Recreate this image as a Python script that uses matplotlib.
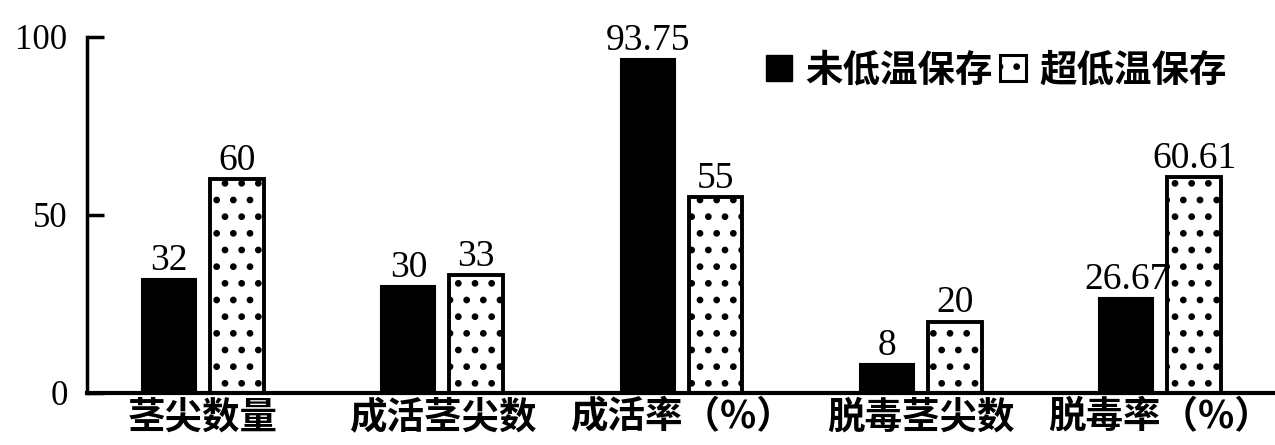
import matplotlib.pyplot as plt
import numpy as np
from matplotlib.patches import Patch

# 茎尖超低温保存前后的数据
categories = ['茎尖数量', '成活茎尖数', '成活率（%）', '脱毒茎尖数', '脱毒率（%）']
untreated = [32, 30, 93.75, 8, 26.67]
cryo = [60, 33, 55, 20, 60.61]
value_labels_a = ['32', '30', '93.75', '8', '26.67']
value_labels_b = ['60', '33', '55', '20', '60.61']
series_names = ['未低温保存', '超低温保存']

cjk = ['Noto Sans CJK SC', 'DejaVu Sans']
serif = 'Liberation Serif'
plt.rcParams['hatch.linewidth'] = 2.4
plt.rcParams['hatch.color'] = 'black'

fig = plt.figure(figsize=(12.75, 4.45), dpi=100)
ax = fig.add_axes([0.0682, 0.1169, 0.9318, 0.80])

x = np.arange(len(categories))
w = 0.225
off = 0.142

b1 = ax.bar(x - off, untreated, w, color='black', edgecolor='black', linewidth=1.5)
b2 = ax.bar(x + off, cryo, w, facecolor='white', edgecolor='black',
            linewidth=2.8, hatch='.')

ax.bar_label(b1, labels=value_labels_a, padding=1, fontsize=27, family=serif)
ax.bar_label(b2, labels=value_labels_b, padding=1, fontsize=27, family=serif)

ax.set_xlim(-0.485, 4.48)
ax.set_ylim(0, 100)
ax.set_yticks([0, 50, 100])
ax.set_yticklabels(['0', '50', '100'], fontsize=25, family=serif)
ax.tick_params(axis='y', direction='in', length=12, width=2.5, pad=14)
ax.set_xticks(x)
ax.set_xticklabels(categories, fontsize=27, family=cjk, fontweight='bold')
ax.tick_params(axis='x', length=0, pad=3)

for s in ['top', 'right']:
    ax.spines[s].set_visible(False)
ax.spines['left'].set_linewidth(2.5)
ax.spines['bottom'].set_linewidth(3)

handles = [Patch(facecolor='black', edgecolor='black'),
           Patch(facecolor='white', edgecolor='black', linewidth=2.2, hatch='.')]
ax.legend(handles, series_names, loc='upper right', bbox_to_anchor=(0.988, 1.057),
          frameon=False, ncol=2, prop={'family': cjk, 'size': 27, 'weight': 'bold'},
          handlelength=0.7, handleheight=0.7, handletextpad=0.35, columnspacing=0.2)

fig.savefig('out.png', dpi=100)
